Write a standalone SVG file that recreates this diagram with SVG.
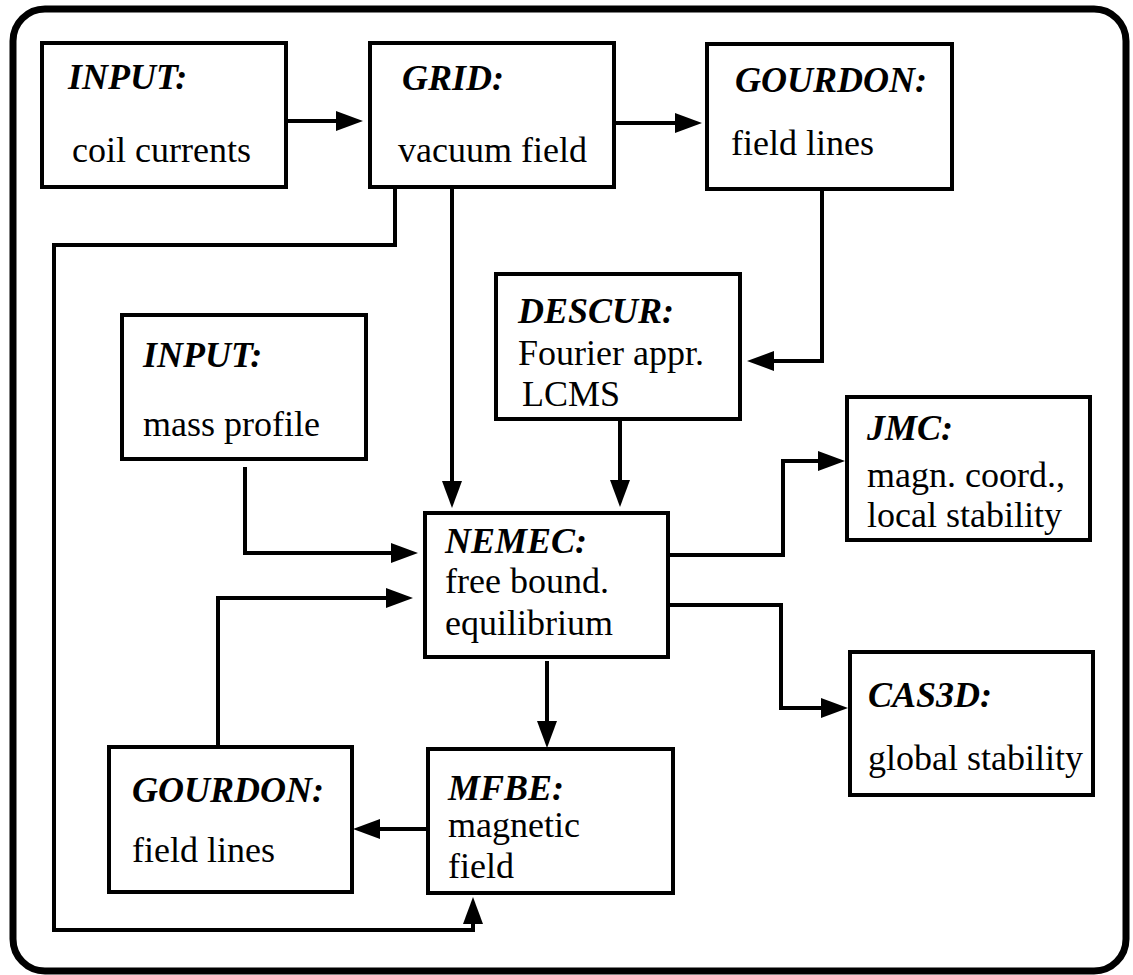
<svg xmlns="http://www.w3.org/2000/svg" width="1133" height="975" viewBox="0 0 1133 975">
<style>
.frame{fill:none;stroke:#000;stroke-width:7}
.box{fill:#fff;stroke:#000;stroke-width:4}
.c{fill:none;stroke:#000;stroke-width:4;marker-end:url(#ah)}
text{font-family:'Liberation Serif','Times New Roman',serif;font-size:36px;fill:#000}
.t{font-weight:bold;font-style:italic}
</style>
<defs>
<marker id="ah" markerUnits="userSpaceOnUse" markerWidth="28" markerHeight="20" refX="0" refY="10" orient="auto" overflow="visible">
<path d="M0,0 L27,10 L0,20 Z" fill="#000"/>
</marker>
</defs>
<rect class="frame" x="13" y="9" width="1113" height="962" rx="32" ry="32"/>
<g id="connectors">
<path class="c" d="M286,121 H336"/>
<path class="c" d="M614,123 H675"/>
<path class="c" d="M822,189 V361 H774"/>
<path class="c" d="M452,187 V481"/>
<path class="c" d="M620,419 V480"/>
<path class="c" d="M245,467 V553 H391"/>
<path class="c" d="M218,747 V598 H386"/>
<path class="c" d="M668,555 H783 V461 H818"/>
<path class="c" d="M668,605 H781 V708 H821"/>
<path class="c" d="M547,661 V721"/>
<path class="c" d="M428,829 H380"/>
<path class="c" d="M395,187 V245 H54 V930 H473 V924"/>
</g>
<g id="input1"><rect class="box" x="42" y="43" width="244" height="144"/><text class="t" x="68" y="89">INPUT:</text><text x="72" y="162">coil currents</text></g>
<g id="grid"><rect class="box" x="370" y="43" width="244" height="144"/><text class="t" x="402" y="90">GRID:</text><text x="398" y="162">vacuum field</text></g>
<g id="gourdon1"><rect class="box" x="707" y="44" width="245" height="145"/><text class="t" x="735" y="92">GOURDON:</text><text x="731" y="155">field lines</text></g>
<g id="descur"><rect class="box" x="496" y="274" width="244" height="145"/><text class="t" x="518" y="323">DESCUR:</text><text x="518" y="365">Fourier appr.</text><text x="522" y="406">LCMS</text></g>
<g id="input2"><rect class="box" x="122" y="315" width="244" height="144"/><text class="t" x="143" y="367">INPUT:</text><text x="143" y="436">mass profile</text></g>
<g id="jmc"><rect class="box" x="847" y="397" width="243" height="143"/><text class="t" x="867" y="440">JMC:</text><text x="867" y="487">magn. coord.,</text><text x="867" y="527">local stability</text></g>
<g id="nemec"><rect class="box" x="425" y="513" width="243" height="144"/><text class="t" x="445" y="553">NEMEC:</text><text x="445" y="593">free bound.</text><text x="445" y="635">equilibrium</text></g>
<g id="cas3d"><rect class="box" x="850" y="652" width="243" height="143"/><text class="t" x="868" y="707">CAS3D:</text><text x="868" y="770">global stability</text></g>
<g id="gourdon2"><rect class="box" x="109" y="747" width="243" height="145"/><text class="t" x="132" y="802">GOURDON:</text><text x="132" y="862">field lines</text></g>
<g id="mfbe"><rect class="box" x="428" y="749" width="245" height="144"/><text class="t" x="448" y="800">MFBE:</text><text x="448" y="837">magnetic</text><text x="448" y="878">field</text></g>
</svg>
